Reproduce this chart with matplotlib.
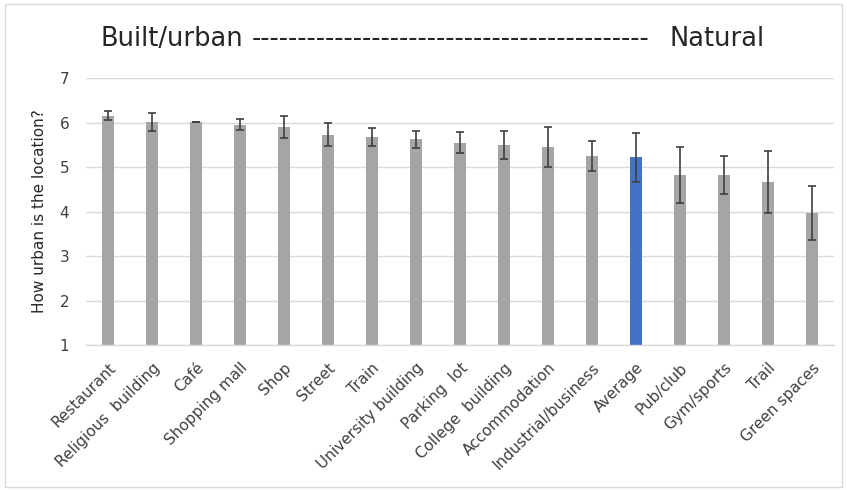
import matplotlib
matplotlib.use("Agg")
import matplotlib.pyplot as plt
from matplotlib.patches import Rectangle

plt.rcParams["font.family"] = ["DejaVu Sans"]

categories = ["Restaurant", "Religious  building", "Café", "Shopping mall", "Shop",
              "Street", "Train", "University building", "Parking  lot",
              "College  building", "Accommodation", "Industrial/business",
              "Average", "Pub/club", "Gym/sports", "Trail", "Green spaces"]
means = [6.15, 6.02, 6.02, 5.95, 5.90, 5.73, 5.67, 5.62, 5.55, 5.50, 5.45,
         5.25, 5.22, 4.82, 4.82, 4.66, 3.97]
errors = [0.10, 0.20, 0.0, 0.12, 0.25, 0.25, 0.20, 0.19, 0.23, 0.31, 0.45,
          0.33, 0.55, 0.63, 0.43, 0.69, 0.60]
yticks = [1, 2, 3, 4, 5, 6, 7]

gray = "#A5A5A5"
blue = "#4472C4"
colors = [blue if c == "Average" else gray for c in categories]

fig = plt.figure(figsize=(8.47, 4.90), dpi=100)
fig.patch.set_facecolor("white")
fig.patches.append(Rectangle((0.006, 0.006), 0.988, 0.986, transform=fig.transFigure,
                             fill=False, edgecolor="#D9D9D9", linewidth=1.0))

ax = fig.add_axes([0.1015, 0.2959, 0.8832, 0.5449])
x = list(range(len(categories)))
ax.bar(x, [m - 1 for m in means], bottom=1, width=0.28, color=colors, zorder=2)
ax.errorbar(x, means, yerr=errors, fmt="none", ecolor="#404040", elinewidth=1.2,
            capsize=3, capthick=1.2, zorder=3)

ax.set_xlim(-0.5, len(categories) - 0.5)
ax.set_ylim(1, 7)
ax.set_yticks(yticks)
ax.yaxis.grid(True, color="#D9D9D9", linewidth=1.0, zorder=0)
for s in ["top", "right", "left"]:
    ax.spines[s].set_visible(False)
ax.spines["bottom"].set_color("#D9D9D9")
ax.spines["bottom"].set_linewidth(1.0)
ax.tick_params(axis="y", length=0, pad=12, labelsize=11, labelcolor="#404040")
ax.tick_params(axis="x", length=0, pad=11)
ax.set_xticks(x)
ax.set_xticklabels(categories, rotation=45, ha="right", va="top",
                   rotation_mode="anchor", fontsize=11, color="#404040")
ax.set_ylabel("How urban is the location?", fontsize=11, color="#262626", labelpad=9)

# Header: built/urban on the left, natural on the right, dashed run between
title_y = 0.921
fig.text(100 / 847, title_y, "Built/urban", fontsize=18.5, color="#262626",
         ha="left", va="center")
fig.text(252 / 847, title_y, "-" * 43, fontsize=18.5, color="#262626",
         ha="left", va="center")
fig.text(670 / 847, title_y, "Natural", fontsize=18.5, color="#262626",
         ha="left", va="center")

fig.savefig("out.png", dpi=100)
